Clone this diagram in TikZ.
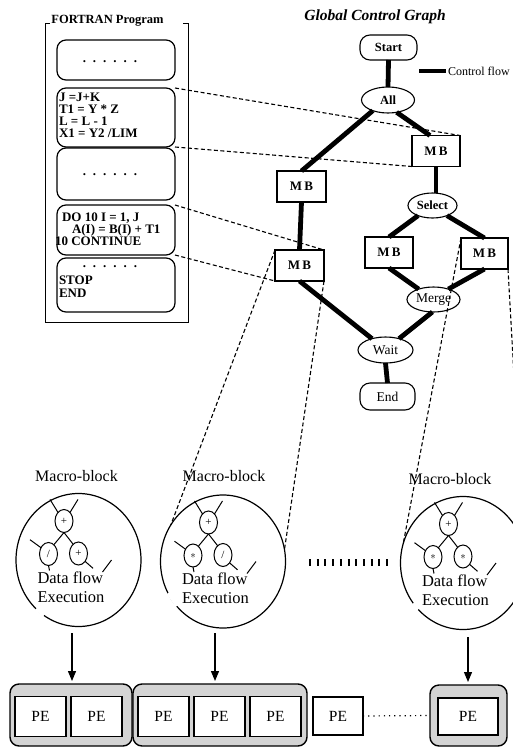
\documentclass[tikz,border=0pt]{standalone}
\usepackage{fontspec}
\setmainfont{Liberation Serif}
\usetikzlibrary{arrows.meta,shapes.geometric}

\newcommand{\sixdots}{.\hspace{7pt}.\hspace{7pt}.\hspace{7pt}.\hspace{7pt}.\hspace{7pt}.}

\newcommand{\mbtree}[5]{%
 \begin{scope}[shift={#2}]
  \node[op] (#1t) at (-14.5,-39) {#3};
  \node[op] (#1l) at (-30,-6) {#4};
  \node[op] (#1r) at (0,-6.5) {#5};
  \draw[tl] (#1t.125) -- ++(-8,-13);
  \draw[tl] (#1t.55) -- ++(8,-13);
  \draw[tl] (#1t.south) -- (#1l.60);
  \draw[tl] (#1t.south) -- (#1r.120);
  \draw[tl] (#1l.140) -- ++(-11,-8);
  \draw[tl] (#1l.south) -- ++(1,5);
  \draw[tl] (#1r.-50) -- ++(8,7);
  \coordinate (#1s1) at (24,12);
  \coordinate (#1s2) at (33,0);
  \draw[tl] (#1s1) -- (#1s2);
  \node[dftxt] (#1x) at (-41,27) {Data flow\\Execution};
 \end{scope}}

\begin{document}
\begin{tikzpicture}[x=1pt,y=-1pt,
  every node/.style={inner sep=0pt, outer sep=0pt},
  frameline/.style={line width=1pt},
  progbox/.style={draw, line width=1.2pt, rounded corners=9pt, minimum width=118pt},
  progtxt/.style={font=\bfseries\fontsize{13}{12}\selectfont, anchor=west, align=left},
  cf/.style={line width=4.8pt},
  gbox/.style={draw, line width=1.1pt, fill=white, minimum width=48pt, minimum height=31pt, font=\bfseries\fontsize{13}{14}\selectfont},
  gell/.style={draw, ellipse, line width=1.1pt, fill=white, minimum width=53pt, minimum height=26pt},
  gterm/.style={draw, line width=1.1pt, fill=white, rounded corners=10pt, minimum width=56pt, minimum height=26pt},
  dline/.style={line width=1.1pt, dash pattern=on 4pt off 2.5pt},
  mbcirc/.style={draw, ellipse, line width=1.2pt, minimum width=125pt, minimum height=133pt},
  op/.style={draw, ellipse, line width=1pt, minimum width=18pt, minimum height=23pt, font=\fontsize{11}{11}\selectfont},
  tl/.style={line width=1pt},
  dftxt/.style={anchor=west, align=left, font=\fontsize{16.5}{19}\selectfont},
  mblabel/.style={font=\fontsize{16}{18}\selectfont},
  grp/.style={draw, line width=1.4pt, rounded corners=9pt, fill=black!17},
  pe/.style={draw, line width=1.1pt, fill=white, minimum width=51pt, minimum height=40pt, font=\fontsize{15.5}{16}\selectfont},
  arr/.style={line width=1.2pt, -{Triangle[length=10pt,width=8pt]}},
  dotline/.style={line width=1.2pt, dash pattern=on 1.2pt off 4pt}
]
\path[use as bounding box, fill=white] (0,0) rectangle (513,747);

% ---------------- FORTRAN program ----------------
\node[font=\bfseries\fontsize{12.5}{14}\selectfont] (ftitle) at (107.5,21) {FORTRAN Program};
\draw[frameline] (50,23) -- (45,23) -- (45,322) -- (188,322) -- (188,23) -- (183,23);

\node[progbox, minimum height=40pt] (b1) at (116,60) {};
\node[progbox, minimum height=59pt] (b2) at (116,117.5) {};
\node[progbox, minimum height=52pt] (b3) at (116,174) {};
\node[progbox, minimum height=50pt] (b4) at (116,230) {};
\node[progbox, minimum height=54pt] (b5) at (116,285) {};

\node[progtxt, anchor=center] (b1d) at (110,62) {\sixdots};
\node[progtxt] (b2t) at (59,115) {J =J+K\\T1 = Y * Z\\L = L - 1\\X1 = Y2 /LIM};
\node[progtxt, anchor=center] (b3d) at (110,175) {\sixdots};
\node[progtxt] (b4a) at (62,218) {DO 10 I = 1, J};
\node[progtxt] (b4b) at (72,230) {A(I) = B(I) + T1};
\node[progtxt] (b4c) at (55,241) {10 CONTINUE};
\node[progtxt, anchor=center] (b5d) at (110,267) {\sixdots};
\node[progtxt] (b5a) at (59,280) {STOP};
\node[progtxt] (b5b) at (59,293) {END};

% ---------------- Global control graph ----------------
\node[font=\bfseries\itshape\fontsize{15.5}{17}\selectfont] (gtitle) at (375,17) {Global Control Graph};

\node[gterm, font=\bfseries\fontsize{12.5}{13}\selectfont, minimum width=57pt, minimum height=25pt] (start) at (388.5,47.5) {Start};
\node[gell, font=\bfseries\fontsize{12.5}{13}\selectfont] (all) at (388,100) {All};
\node[gbox] (mbR) at (436,151) {M\,B};
\node[gbox, minimum width=49pt] (mbL) at (301.5,186.5) {M\,B};
\node[gell, minimum width=49pt, minimum height=25pt, font=\bfseries\fontsize{12.5}{13}\selectfont] (sel) at (432.5,205.5) {Select};
\node[gbox, minimum width=49pt] (mbL2) at (299.5,265.5) {M\,B};
\node[gbox] (mbM) at (389,252.5) {M\,B};
\node[gbox, minimum width=47pt] (mbR2) at (484.5,253.5) {M\,B};
\node[gell, minimum height=25pt, font=\fontsize{13.5}{14}\selectfont] (merge) at (433.5,299.5) {Merge};
\node[gell, minimum width=55pt, font=\fontsize{13.5}{14}\selectfont] (wait) at (385.5,350) {Wait};
\node[gterm, minimum width=55pt, minimum height=27pt, font=\fontsize{13.5}{14}\selectfont] (fin) at (387.5,396.5) {End};

\draw[cf] (start.south) -- (all.north);
\draw[cf] (all.215) -- (mbL.north);
\draw[cf] (all.-55) -- ([xshift=-6pt]mbR.north);
\draw[cf] (mbR.south) -- (mbR.south |- sel.north);
\draw[cf] (mbL.south) -- (mbL2.north);
\draw[cf] (sel.215) -- (mbM.north);
\draw[cf] (sel.-35) -- (mbR2.north);
\draw[cf] (mbM.south) -- (merge.145);
\draw[cf] (mbR2.south) -- (merge.35);
\draw[cf] (mbL2.south) -- (wait.140);
\draw[cf] (merge.-95) -- (wait.40);
\draw[cf] (wait.south) -- (fin.north);

% legend
\coordinate (lg1) at (419,71);
\coordinate (lg2) at (446,71);
\draw[line width=3.5pt] (lg1) -- (lg2);
\node[anchor=west, font=\fontsize{12}{13}\selectfont] (lgt) at (448,71) {Control flow};

% ---------------- Macro-blocks ----------------
\node[mblabel] (m1) at (76.5,476) {Macro-block};
\node[mblabel] (m2) at (224,476) {Macro-block};
\node[mblabel] (m3) at (450,479) {Macro-block};

\node[mbcirc] (c1) at (78.5,560) {};
\node[mbcirc] (c2) at (223,561.5) {};
\node[mbcirc] (c3) at (463,563) {};
\draw[white, line width=3pt] (c1.229) -- (c1.238);
\draw[white, line width=3pt] (c2.210) -- (c2.224);
\draw[white, line width=3pt] (c3.219) -- (c3.226);

\mbtree{c1}{(78.5,560)}{+}{/}{+}
\mbtree{c2}{(223,561.5)}{+}{$\ast$}{/}
\mbtree{c3}{(463,563)}{+}{$\ast$}{$\ast$}

\coordinate (dl1) at (309,562);
\coordinate (dl2) at (390,562);
\draw[line width=7pt, dash pattern=on 2pt off 5.7pt] (dl1) -- (dl2);

% ---------------- PEs ----------------
\node[grp, minimum width=122pt, minimum height=62pt] (g1) at (71,715) {};
\node[grp, minimum width=174pt, minimum height=62pt] (g2) at (220,715) {};
\node[grp, minimum width=77pt, minimum height=61pt] (g3) at (468.5,715.5) {};

\node[pe] (p1) at (40.5,716.5) {PE};
\node[pe] (p2) at (96.5,716.5) {PE};
\node[pe] (p3) at (163.5,716.5) {PE};
\node[pe] (p4) at (219.5,716.5) {PE};
\node[pe] (p5) at (275.5,716.5) {PE};
\node[pe, minimum width=50pt, minimum height=38pt] (p6) at (338,716) {PE};
\node[pe, minimum width=60pt, minimum height=37pt] (p7) at (468,716.5) {PE};
\draw[dotline] (p6.east) -- (g3.west);

\coordinate (a1) at (72,633);
\coordinate (a2) at (215,633);
\coordinate (a3) at (468,637);
\draw[arr, shorten >=3pt] (a1) -- (a1 |- g1.north);
\draw[arr, shorten >=3pt] (a2) -- (a2 |- g2.north);
\draw[arr, shorten >=3pt] (a3) -- (a3 |- g3.north);

% ---------------- dashed mapping lines ----------------
\draw[dline] (b2.north east) -- (mbR.north east);
\draw[dline] (b2.south east) -- (mbR.south west);
\draw[dline] (b4.north east) -- (mbL2.north east);
\draw[dline] (b4.south east) -- (mbL2.south west);
\draw[dline] (mbL2.north west) -- (c2.145);
\draw[dline] (mbL2.south east) -- (c2.11);
\draw[dline] (mbR2.north west) -- (c3.162);
\draw[dline] (mbR2.south east) -- (c3.15);
\end{tikzpicture}
\end{document}
